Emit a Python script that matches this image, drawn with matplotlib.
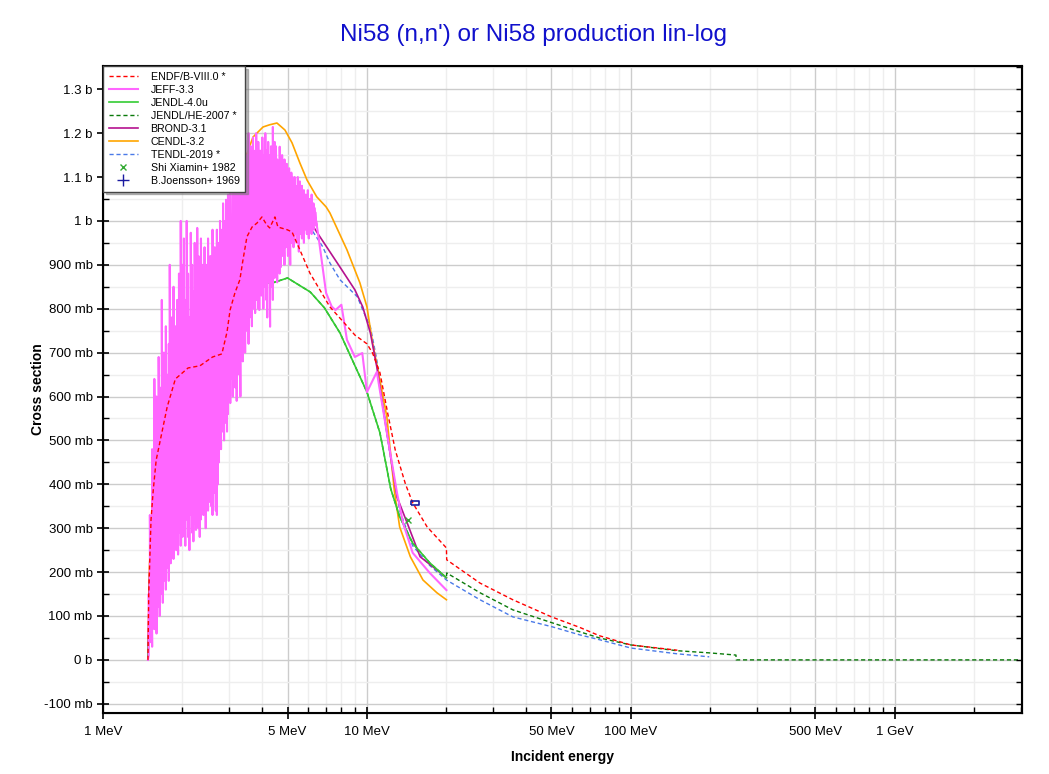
import numpy as np
import matplotlib.pyplot as plt
from matplotlib.ticker import FixedLocator, FuncFormatter, MultipleLocator, NullFormatter

plt.rcParams['font.family'] = ['Liberation Sans', 'DejaVu Sans']

# energies in MeV, cross sections in mb
endf_e = [1.48, 1.49, 1.50, 1.52, 1.55, 1.59, 1.67, 1.75, 1.88, 2.1, 2.33, 2.6, 2.82, 2.95, 3.03,
          3.16, 3.30, 3.39, 3.51, 3.67, 3.83, 4.0, 4.17, 4.28, 4.48, 4.6, 4.98, 5.2, 5.57, 6.08,
          6.6, 7.24, 8.0, 9.0, 10.0, 10.5, 11.2, 12.0, 12.8, 14.0, 14.9, 16.9, 20.0, 20.05, 26.8,
          35.7, 50.0, 64.0, 76.0, 100.0, 150.0]
endf_xs = [0, 150, 205, 319, 387, 455, 517, 576, 640, 665, 670, 690, 697, 747, 797,
           836, 866, 911, 964, 986, 995, 1009, 991, 984, 1009, 986, 980, 975, 934, 881,
           845, 804, 775, 740, 720, 699, 654, 560, 478, 400, 358, 303, 255, 228, 175,
           137, 98, 74, 55, 34, 22]

# JEFF-3.3 resonance region: energy grid with low / high values of the fluctuations
jeff_res_e = [1.48,
              1.49, 1.505, 1.52, 1.535, 1.55, 1.565, 1.58, 1.595, 1.61, 1.625, 1.64, 1.655,
              1.67, 1.685, 1.70, 1.715, 1.73, 1.745, 1.76, 1.775, 1.79, 1.805, 1.82, 1.835,
              1.85, 1.865, 1.88, 1.895, 1.91, 1.925, 1.94, 1.955, 1.97, 1.985, 2.00,
              2.025, 2.05, 2.075, 2.10, 2.125, 2.15, 2.175, 2.20, 2.225, 2.25, 2.275, 2.30,
              2.325, 2.35, 2.375, 2.40, 2.425, 2.45, 2.475, 2.50, 2.525, 2.55, 2.575, 2.60,
              2.625, 2.65, 2.675, 2.70, 2.725, 2.75, 2.775, 2.80, 2.825, 2.85, 2.875, 2.90,
              2.925, 2.95, 2.975, 3.00,
              3.035, 3.07, 3.105, 3.14, 3.175, 3.21, 3.245, 3.28, 3.315, 3.35, 3.385, 3.42,
              3.455, 3.49, 3.525, 3.56, 3.595, 3.63, 3.665, 3.70, 3.735, 3.77, 3.805, 3.84,
              3.875, 3.91, 3.945, 3.98, 4.015, 4.05, 4.085, 4.12, 4.155, 4.19, 4.225, 4.26,
              4.295, 4.33, 4.365, 4.40, 4.435, 4.47,
              4.52, 4.57, 4.62, 4.67, 4.72, 4.77, 4.82, 4.87, 4.92, 4.97, 5.02, 5.07, 5.12,
              5.17, 5.22, 5.27, 5.32, 5.37, 5.42, 5.47, 5.52, 5.57, 5.62, 5.67, 5.72, 5.77,
              5.82, 5.87, 5.92, 5.97, 6.02, 6.07, 6.12, 6.17, 6.22, 6.27, 6.32, 6.37, 6.42]
jeff_res_lo = [0,
               10, 40, 60, 30, 90, 70, 110, 60, 120, 140, 100, 150,
               170, 130, 180, 200, 160, 230, 210, 180, 250, 220, 240, 270,
               230, 260, 300, 250, 280, 240, 290, 310, 260, 300, 280,
               300, 260, 320, 280, 250, 330, 290, 270, 310, 296, 340, 300,
               280, 320, 360, 330, 348, 300, 380, 340, 360, 400, 350, 330,
               380, 420, 340, 330, 400, 450, 540, 480, 520, 560, 500, 540,
               580, 520, 560, 600,
               585, 640, 600, 680, 620, 590, 700, 650, 600, 720, 680, 781,
               700, 750, 800, 720, 780, 820, 760, 800, 850, 790, 820, 870,
               800, 797, 860, 830, 880, 800, 850, 900, 820, 780, 860, 900,
               759, 850, 880, 820, 900, 870,
               900, 860, 940, 880, 895, 920, 960, 900, 940, 980, 920, 960, 900,
               950, 990, 940, 970, 1000, 950, 980, 930, 970, 1000, 960, 990, 950,
               980, 1010, 970, 1000, 960, 990, 1010, 970, 1000, 980, 1010, 990, 990]
jeff_res_hi = [0,
               150, 330, 250, 480, 380, 640, 520, 600, 450, 690, 560, 620,
               820, 500, 700, 600, 760, 650, 540, 720, 900, 680, 780, 600,
               850, 720, 760, 680, 820, 700, 880, 760, 1000, 820, 900,
               960, 820, 1000, 880, 780, 973, 900, 840, 950, 880, 984, 920,
               800, 960, 900, 860, 940, 780, 900, 960, 880, 920, 840, 980,
               900, 940, 860, 980, 900, 950, 1000, 920, 980, 1040, 960, 1000,
               1048, 980, 1060, 1020,
               1080, 1000, 1120, 1060, 1150, 1040, 1100, 1170, 1060, 1130, 1090, 1160,
               1184, 1100, 1150, 1200, 1080, 1170, 1140, 1190, 1120, 1160, 1200, 1100,
               1180, 1140, 1160, 1100, 1190, 1150, 1120, 1200, 1160, 1130, 1180, 1150,
               1100, 1170, 1140, 1214, 1160, 1180,
               1170, 1140, 1100, 1169, 1120, 1150, 1100, 1140, 1090, 1130, 1100, 1120, 1080,
               1110, 1100, 1060, 1100, 1080, 1070, 1100, 1064, 1090, 1060, 1080, 1050, 1070,
               1048, 1060, 1040, 1070, 1030, 1050, 1040, 1060, 1020, 1040, 1030, 1020, 1000]
jeff_tail_e = [6.6, 7.0, 7.35, 7.6, 8.0, 8.4, 9.0, 9.6, 10.0, 10.9, 11.9, 13.0, 13.7, 14.9, 17.3, 20.0]
jeff_tail_xs = [950, 836, 805, 797, 809, 729, 690, 699, 610, 656, 517, 380, 312, 244, 198, 159]

jendl4_e = [1.48, 1.52, 1.6, 1.7, 2.14, 2.5, 3.0, 3.3, 3.6, 4.0, 4.4, 5.0, 6.1, 6.9, 7.9,
            10.0, 11.2, 12.3, 13.3, 14.9, 17.3, 20.0]
jendl4_xs = [0, 200, 280, 330, 433, 560, 720, 820, 872, 859, 859, 870, 838, 802, 745,
             610, 517, 390, 326, 266, 221, 187]

jendlhe_e = [1.48, 1.52, 1.6, 1.7, 2.14, 2.5, 3.0, 3.3, 3.6, 4.0, 4.4, 5.0, 6.1, 6.9, 7.9,
             10.0, 11.2, 12.3, 13.3, 14.9, 17.3, 20.0, 20.05, 26.8, 35.7, 50.6, 64.0,
             76.0, 100.0, 149.0, 198.0, 250.0, 250.5, 3000.0]
jendlhe_xs = [0, 200, 280, 330, 433, 560, 720, 820, 872, 859, 859, 870, 838, 802, 745,
              610, 517, 390, 326, 266, 221, 187, 198, 153, 114, 84, 64,
              50, 34, 21, 16, 11, 0, 0]

brond_e = [1.48, 1.5, 1.55, 1.7, 2.0, 2.5, 3.0, 3.5, 4.0, 5.0, 5.5, 6.45, 7.9, 9.0, 9.64,
           10.3, 10.9, 11.9, 13.0, 14.2, 15.9, 18.4, 20.0]
brond_xs = [0, 190, 340, 500, 650, 800, 900, 1000, 1050, 1060, 1040, 975, 895, 843, 804,
            745, 667, 517, 371, 312, 235, 205, 187]

cendl_e = [1.48, 1.5, 1.6, 1.8, 2.0, 2.3, 2.6, 2.95, 3.1, 3.3, 3.45, 3.7, 4.04, 4.28, 4.56,
           4.89, 5.2, 5.57, 5.93, 6.45, 7.0, 7.24, 8.4, 9.4, 10.0, 10.5, 11.0, 11.9, 12.7,
           13.3, 14.6, 16.3, 18.4, 20.0]
cendl_xs = [0, 220, 380, 540, 640, 740, 820, 880, 960, 1070, 1140, 1191, 1214, 1219, 1223,
            1207, 1178, 1132, 1093, 1055, 1032, 1018, 934, 859, 804, 722, 661, 553, 385,
            303, 235, 182, 153, 137]

tendl_e = [1.48, 1.5, 1.55, 1.7, 2.0, 2.5, 3.0, 3.5, 4.04, 4.5, 5.0, 5.7, 6.08, 6.8, 7.24,
           7.9, 9.2, 9.64, 10.3, 10.9, 11.5, 12.5, 13.3, 14.9, 17.3, 20.0, 26.8, 35.7, 50.6,
           64.0, 76.0, 100.0, 149.0, 198.0]
tendl_xs = [0, 190, 340, 500, 650, 820, 940, 1020, 1064, 1060, 1045, 1018, 986, 941, 904,
            866, 827, 797, 759, 683, 580, 430, 340, 260, 215, 182, 137, 98, 75,
            57, 46, 27, 14, 7]

shi_e = [14.3]
shi_xs = [319]
joe_e = [15.2]
joe_xs = [358]

# JEFF-3.3 curve: each grid energy goes low -> high, then on to the next one
jeff_e = list(np.repeat(jeff_res_e, 2)) + jeff_tail_e
jeff_xs = list(np.column_stack([jeff_res_lo, jeff_res_hi]).ravel()) + jeff_tail_xs

fig = plt.figure(figsize=(10.49, 7.74), dpi=100)
ax = fig.add_axes([0.0982, 0.0788, 0.876, 0.836])

dash = (0, (3, 2))
# first library in the legend is drawn on top
ax.plot(endf_e, endf_xs, color='#ff0000', lw=1.0, ls=dash, label='ENDF/B-VIII.0 *', zorder=9)
ax.plot(jeff_e, jeff_xs, color='#ff66ff', lw=1.5, label='JEFF-3.3', zorder=8)
ax.plot(jendl4_e, jendl4_xs, color='#33cc33', lw=1.2, label='JENDL-4.0u', zorder=7)
ax.plot(jendlhe_e, jendlhe_xs, color='#0a7a0a', lw=1.0, ls=dash, label='JENDL/HE-2007 *', zorder=6)
ax.plot(brond_e, brond_xs, color='#b5128f', lw=1.2, label='BROND-3.1', zorder=5)
ax.plot(cendl_e, cendl_xs, color='#ffa500', lw=1.2, label='CENDL-3.2', zorder=4)
ax.plot(tendl_e, tendl_xs, color='#4a7ae8', lw=1.0, ls=dash, label='TENDL-2019 *', zorder=3)
ax.plot(shi_e, shi_xs, ls='none', marker='x', ms=5, mew=1.0, color='#33aa33',
        label='Shi Xiamin+ 1982', zorder=10)
# the Joensson point is shown as a small box, its legend entry as a cross
box = [(-1, -0.45), (1, -0.45), (1, 0.45), (-1, 0.45), (-1, -0.45)]
ax.plot(joe_e, joe_xs, ls='none', marker=box, ms=5.5, mew=1.2, mfc='none', mec='#1a1aa0', zorder=10)
ax.plot([], [], ls='none', marker='+', ms=8, mew=1.0, color='#1a1aa0', label='B.Joensson+ 1969')

ax.set_xscale('log')
ax.set_xlim(1, 3030)
ax.set_ylim(-121, 1353)

xt = [1, 5, 10, 50, 100, 500, 1000]
xl = ['1 MeV', '5 MeV', '10 MeV', '50 MeV', '100 MeV', '500 MeV', '1 GeV']
ax.xaxis.set_major_locator(FixedLocator(xt))
ax.set_xticklabels(xl)
minors = [m * d for d in [1, 10, 100, 1000] for m in range(2, 10) if m != 5 and m * d < 3030]
ax.xaxis.set_minor_locator(FixedLocator(minors))
ax.xaxis.set_minor_formatter(NullFormatter())


def yfmt(v, pos):
    v = int(round(v))
    if v == 0:
        return '0 b'
    if abs(v) >= 1000:
        return f'{v / 1000:g} b'
    return f'{v} mb'


ax.yaxis.set_major_locator(MultipleLocator(100))
ax.yaxis.set_minor_locator(MultipleLocator(50))
ax.yaxis.set_major_formatter(FuncFormatter(yfmt))

ax.grid(which='major', color='#cccccc', lw=1.0)
ax.grid(which='minor', color='#eeeeee', lw=1.0)
ax.set_axisbelow(True)

for s in ax.spines.values():
    s.set_linewidth(1.5)
ax.tick_params(axis='y', which='major', direction='inout', length=8, width=1.2, labelsize=9.5)
ax.tick_params(axis='y', which='minor', direction='in', length=4, width=1.0)
ax.tick_params(axis='x', which='major', direction='inout', length=8, width=1.2, labelsize=9.5, pad=5)
ax.tick_params(axis='x', which='minor', direction='in', length=4, width=1.0)

# right side ticks point inwards
ax2 = ax.twinx()
ax2.set_ylim(ax.get_ylim())
ax2.yaxis.set_major_locator(MultipleLocator(50))
ax2.tick_params(axis='y', direction='in', length=4, width=1.0, labelright=False)

ax.set_xlabel('Incident energy', fontsize=10, fontweight='bold', labelpad=9)
ax.set_ylabel('Cross section', fontsize=10, fontweight='bold', labelpad=-1)

fig.text(533 / 1049, 1 - 35 / 774, "Ni58 (n,n') or Ni58 production lin-log", color='#1010cc',
         fontsize=17.5, ha='center', va='center')

handles, labels = ax.get_legend_handles_labels()
leg = ax2.legend(handles, labels, loc='upper left', fontsize=7.7, borderaxespad=0, labelspacing=0.28,
                 handlelength=2.7, handletextpad=1.2, borderpad=0.55, fancybox=False,
                 shadow={'color': '#777777'}, framealpha=1, edgecolor='#444444')
leg.get_frame().set_linewidth(1.0)

fig.savefig('out.png', dpi=100)
